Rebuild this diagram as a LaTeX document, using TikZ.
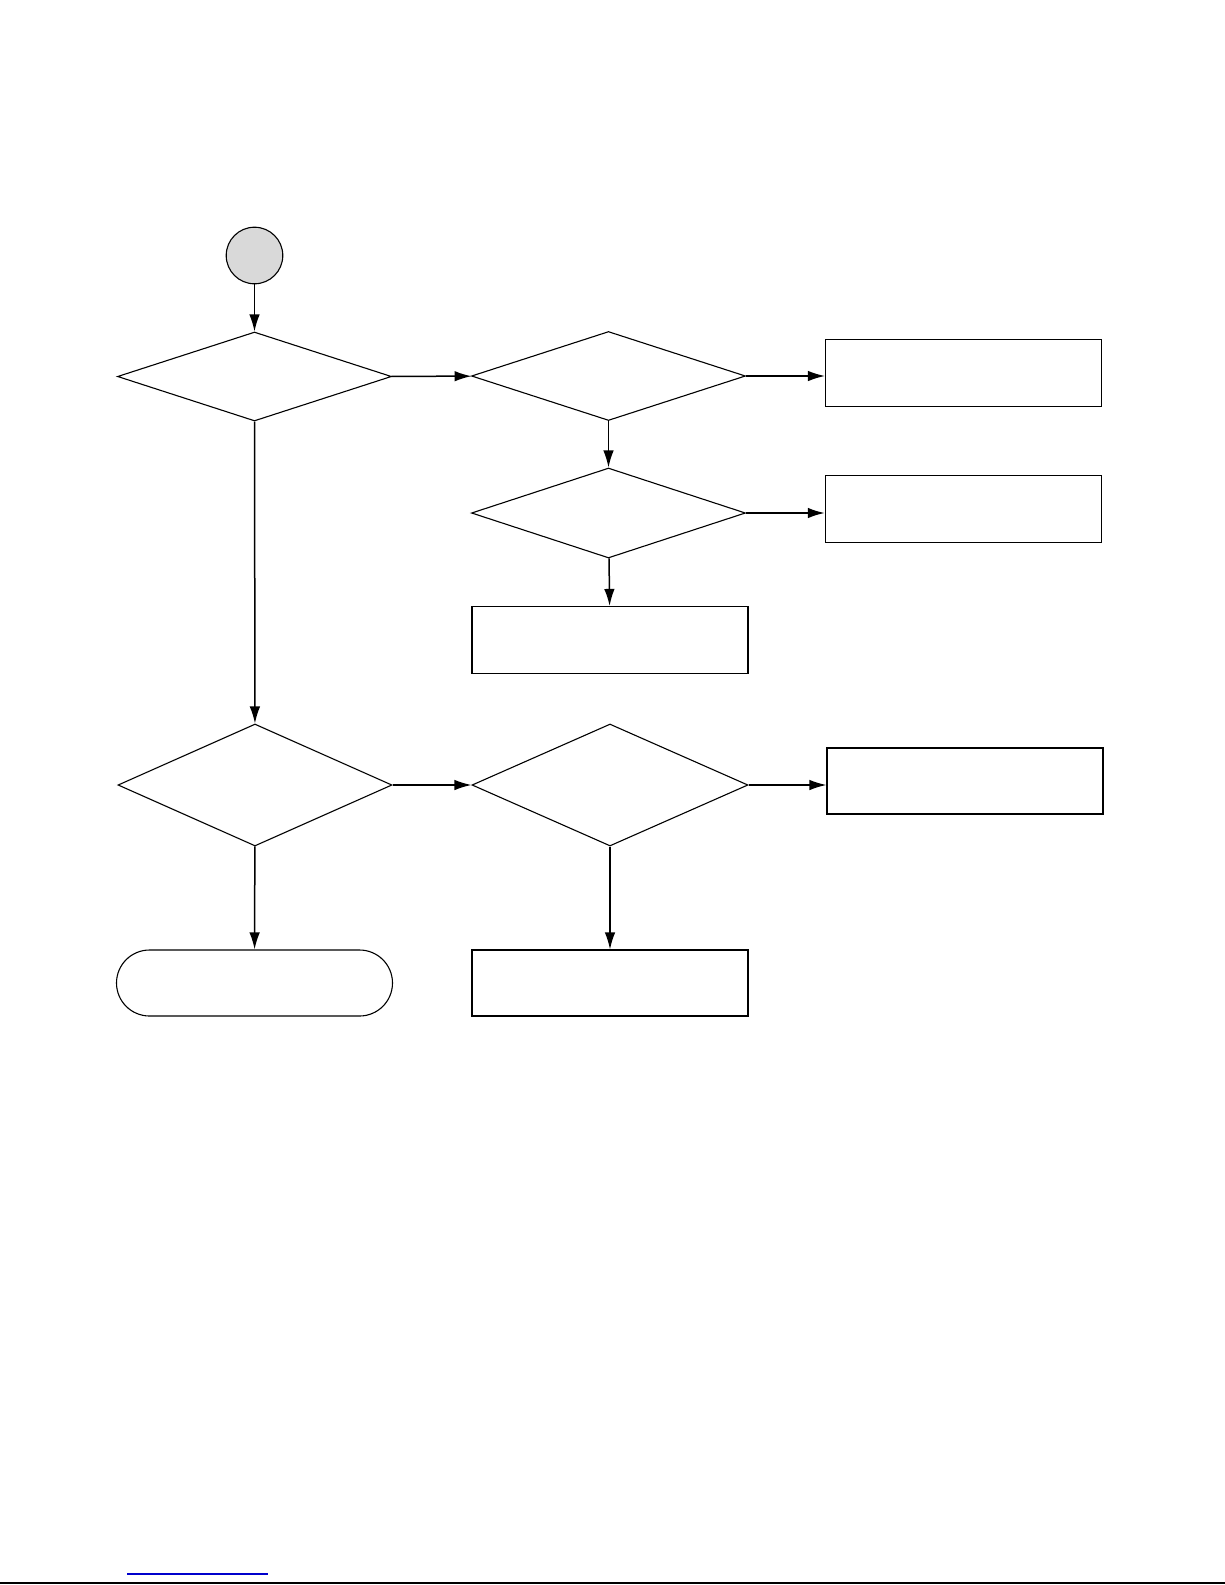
\documentclass[tikz,border=0pt]{standalone}
\usetikzlibrary{arrows.meta,shapes.geometric}

\begin{document}
\begin{tikzpicture}[x=1pt,y=-1pt,
  process/.style={draw,line width=1.1pt,minimum width=276pt,minimum height=67pt,inner sep=0pt},
  decision/.style={draw,diamond,line width=1.1pt,minimum width=274pt,minimum height=89pt,inner sep=0pt},
  terminal/.style={draw,line width=1.1pt,rounded corners=33pt,minimum width=276pt,minimum height=66pt,inner sep=0pt},
  route/.style={-{Latex[length=17pt,width=10.5pt]},line width=1.5pt}
]
  \useasboundingbox (0,0) rectangle (1225,1585);

  \node[draw,circle,fill=gray!30,line width=1.1pt,minimum size=56.6pt,inner sep=0pt] (start) at (254.5,255.5) {};
  \node[decision] (first) at (254.5,376.5) {};
  \node[decision] (second) at (608.5,376) {};
  \node[process] (outA) at (963.5,373) {};
  \node[decision,minimum height=90pt] (third) at (608.5,513) {};
  \node[process] (outB) at (963.5,509) {};
  \node[process] (outC) at (610,640) {};
  \node[decision,minimum height=122pt] (fourth) at (255,785) {};
  \node[decision,minimum width=276pt,minimum height=122pt] (fifth) at (610,785) {};
  \node[process,minimum height=66pt] (outD) at (965,781) {};
  \node[terminal] (finish) at (254.5,983) {};
  \node[process,minimum height=66pt] (outE) at (610,983) {};

  \draw[route] (start) -- (first);
  \draw[route] (first) -- (second);
  \draw[route] (second) -- (second -| outA.west);
  \draw[route] (second) -- (third);
  \draw[route,line width=2pt] (third) -- (third -| outB.west);
  \draw[route] (third) -- (outC);
  \draw[route] (first) -- (fourth);
  \draw[route] (fourth) -- (fifth);
  \draw[route] (fifth) -- (fifth -| outD.west);
  \draw[route] (fourth) -- (finish);
  \draw[route] (fifth) -- (outE);

  % page rules at the foot
  \draw[blue!80!black,line width=1.2pt] (127,1574) -- (268,1574);
  \draw[line width=1.6pt] (0,1583) -- (1225,1583);
\end{tikzpicture}
\end{document}
